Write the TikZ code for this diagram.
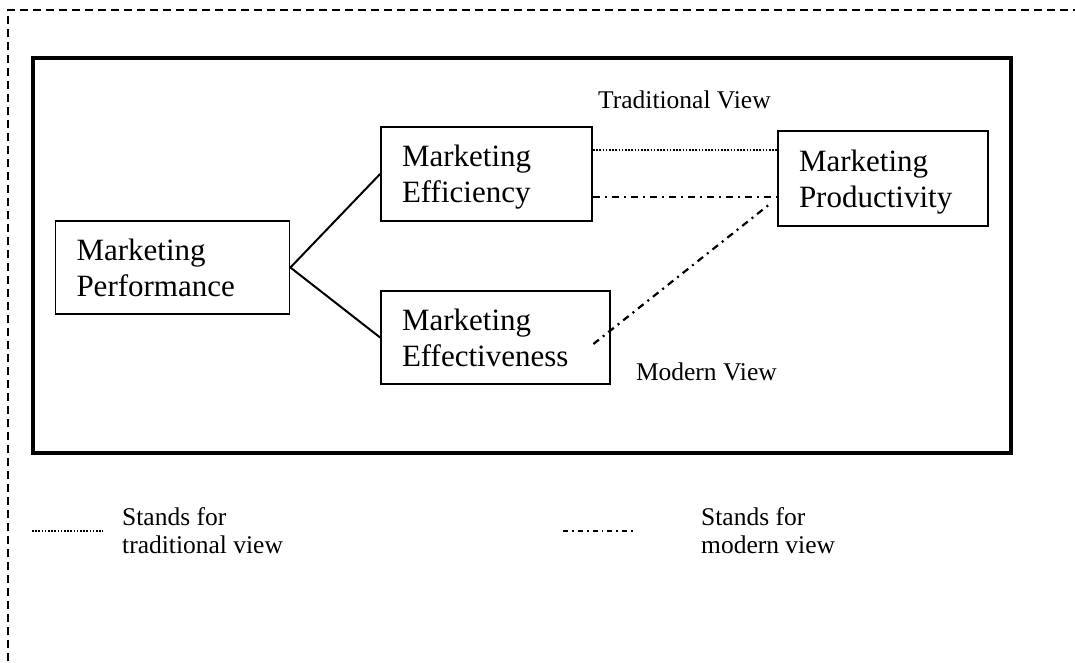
\documentclass[tikz,border=0pt]{standalone}
\usepackage{fontspec}
\setmainfont{Liberation Serif}
\usetikzlibrary{positioning}

\begin{document}
\begin{tikzpicture}
		[x=1pt, y=-1pt,
		box/.style={draw=black, line width=1.8pt, inner xsep=21pt, inner ysep=0pt, align=left, font=\fontsize{31}{36}\selectfont},
		frame/.style={draw=black, line width=4pt},
		border/.style={draw=black, line width=1.6pt, dash pattern=on 8pt off 5pt},
		link/.style={line width=2pt},
		tradline/.style={line width=2pt, dash pattern=on 1.6pt off 1.6pt},
		modline/.style={line width=2.2pt, dash pattern=on 7pt off 5pt on 2pt off 5pt},
		modkey/.style={line width=1.8pt, dash pattern=on 5pt off 4pt on 1.8pt off 4pt},
		viewlabel/.style={inner sep=0pt, font=\fontsize{25.5}{28}\selectfont},
		legendtext/.style={inner sep=0pt, align=left, font=\fontsize{25.5}{28}\selectfont}]
		\useasboundingbox (0,0) rectangle (1075,662);
		\draw[border] (8,700) -- (8,10) -- (1100,10);
		\draw[frame] (33,58) rectangle (1011,453);
		% the four boxes
		\node[box, minimum width=234pt, minimum height=93.5pt, text width=192pt] (perf) at (172.5,267.5) {Marketing\\\smash{Performance}};
		\node[box, minimum width=211pt, minimum height=93.5pt, text width=169pt] (effi) at (486.5,174) {Marketing\\\smash{Efficiency}};
		\node[box, minimum width=229pt, minimum height=93.5pt, text width=187pt] (effe) at (495.5,337.5) {Marketing\\\smash{Effectiveness}};
		\node[box, minimum width=210pt, minimum height=95pt, text width=168pt] (prod) at (883,178.5) {Marketing\\\smash{Productivity}};
		\draw[link] (perf.east) -- (effi.west);
		\draw[link] (perf.east) -- (effe.west);
		\draw[tradline] ([yshift=24pt]effi.east) -- ([yshift=28.5pt]prod.west);
		\draw[modline] ([yshift=-23pt]effi.east) -- ([yshift=-18.5pt]prod.west);
		\draw[modline] ([xshift=-17.5pt, yshift=-6.5pt]effe.east) -- ([xshift=-6pt, yshift=-24.5pt]prod.west);
		\node[viewlabel, anchor=base west] (tradlabel) at (598,108) {Traditional View};
		\node[viewlabel, anchor=base east] (modlabel) at (777,380) {Modern View};
		% legend
		\coordinate (tl1) at (32,531);
		\coordinate (tl2) at (103,531);
		\draw[tradline] (tl1) -- (tl2);
		\node[legendtext, right=19pt of tl2] (tradkey) {Stands for\\traditional view};
		\coordinate (ml1) at (563,531);
		\coordinate (ml2) at (633,531);
		\draw[modkey] (ml1) -- (ml2);
		\node[legendtext, right=68pt of ml2] (modkeytext) {Stands for\\modern view};
	\end{tikzpicture}
\end{document}
